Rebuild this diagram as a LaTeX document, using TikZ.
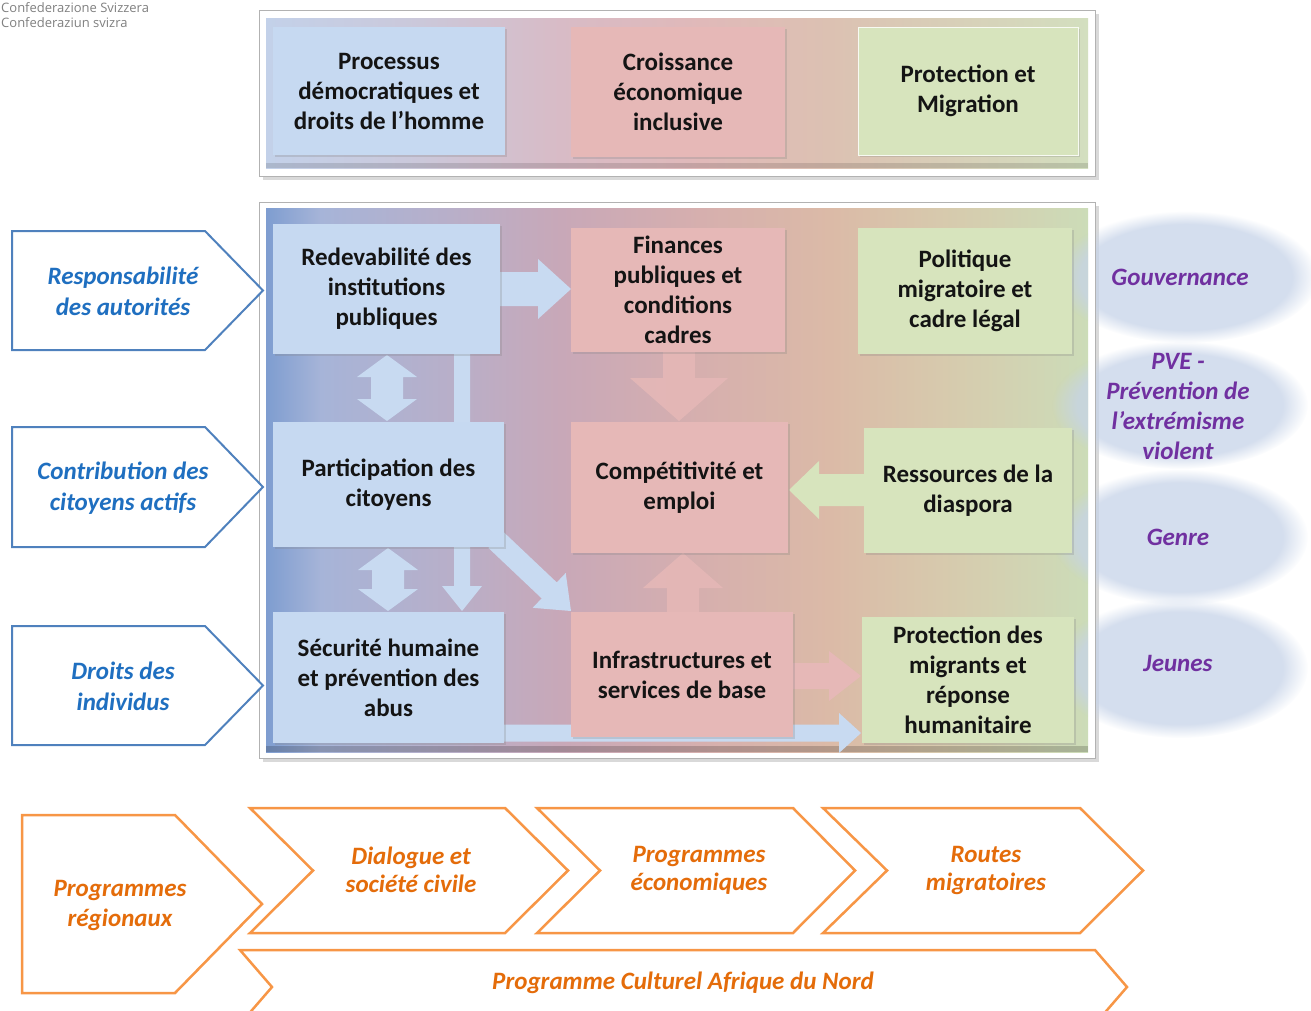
\documentclass[tikz,border=0pt]{standalone}
\usepackage{fontspec}
\setmainfont{Carlito}
\newfontfamily\hdrfont{Open Sans}
\usetikzlibrary{calc,shadows,fadings}
\definecolor{bxblue}{HTML}{C6D9F1}
\definecolor{bxpink}{HTML}{E6B8B7}
\definecolor{bxgreen}{HTML}{D7E4BD}
\definecolor{lblblue}{HTML}{1F6FC0}
\definecolor{pentblue}{HTML}{4F81BD}
\definecolor{purp}{HTML}{7030A0}
\definecolor{orng}{HTML}{E46C0A}
\definecolor{orngline}{HTML}{F79646}
\definecolor{ellc}{HTML}{C6D3E8}
\definecolor{arblue}{HTML}{C8DAF1}
% main frame gradient
\definecolor{ga}{HTML}{7E9DD0}
\definecolor{gb}{HTML}{A6B4D8}
\definecolor{gc}{HTML}{B8AFC9}
\definecolor{gd}{HTML}{C8A8B8}
\definecolor{ge}{HTML}{D6AFAE}
\definecolor{gf}{HTML}{DBBAA7}
\definecolor{gg}{HTML}{D6CCAE}
\definecolor{gh}{HTML}{CCDCB8}
% top frame gradient
\definecolor{ta}{HTML}{C3D1E9}
\definecolor{tb}{HTML}{CBC8DA}
\definecolor{tc}{HTML}{D8BBC6}
\definecolor{td}{HTML}{E0B9B9}
\definecolor{te}{HTML}{DCC1B2}
\definecolor{tf}{HTML}{D3DFBF}

\newcommand{\blockarrow}[6]{% style, start, end, shaft half, head half, head length
  \coordinate (bah) at ($(#3)!#6!(#2)$);
  \fill[#1] ($(#2)!#4!90:(#3)$) -- ($(bah)!#4!90:(#3)$) -- ($(bah)!#5!90:(#3)$) -- (#3)
    -- ($(bah)!#5!-90:(#3)$) -- ($(bah)!#4!-90:(#3)$) -- ($(#2)!#4!-90:(#3)$) -- cycle;
}
\newcommand{\dblarrow}[6]{% style, start, end, shaft half, head half, head length
  \coordinate (bha) at ($(#2)!#6!(#3)$);
  \coordinate (bhb) at ($(#3)!#6!(#2)$);
  \fill[#1] (#2) -- ($(bha)!#5!90:(#3)$) -- ($(bha)!#4!90:(#3)$) -- ($(bhb)!#4!90:(#3)$)
    -- ($(bhb)!#5!90:(#3)$) -- (#3) -- ($(bhb)!#5!-90:(#3)$) -- ($(bhb)!#4!-90:(#3)$)
    -- ($(bha)!#4!-90:(#3)$) -- ($(bha)!#5!-90:(#3)$) -- cycle;
}

\tikzset{
  bx/.style={fill=#1, inner sep=0pt, align=center,
    font=\fontsize{25}{30}\selectfont\bfseries, text=black!92,
    drop shadow={opacity=0.25, shadow xshift=1.5pt, shadow yshift=-1.5pt}},
  lbl/.style={align=center, font=\fontsize{25}{31}\selectfont\bfseries\itshape, text=lblblue},
  pent/.style={draw=pentblue, line width=2pt, fill=white},
  ell/.style={align=center, font=\fontsize{25}{30}\selectfont\bfseries\itshape, text=purp},
  softell/.style={fill=ellc, path fading=circle with fuzzy edge 20 percent, fill opacity=0.75},
  chev/.style={draw=orngline, line width=2.5pt, fill=white},
  otxt/.style={align=center, font=\fontsize{25}{28}\selectfont\bfseries\itshape, text=orng},
  hdr/.style={anchor=west, inner sep=0pt, font=\hdrfont\fontsize{13}{15}\selectfont, text=black!50},
  framebox/.style={draw=black!30, line width=0.8pt, fill=white},
}

\begin{document}
\begin{tikzpicture}[x=1pt, y=-1pt]
\useasboundingbox (0,0) rectangle (1311,1010);

% header
\node[hdr] (h1) at (1,8) {Confederazione Svizzera};
\node[hdr] (h2) at (1,23) {Confederaziun svizra};

% ---------- top frame ----------
\fill[black, opacity=0.15] (263,14) rectangle (1099,180);
\draw[framebox] (259,10) rectangle (1095,176);
\shade[left color=ta, right color=tb] (266,18) rectangle (420.5,168);
\shade[left color=tb, right color=tc] (420,18) rectangle (560.5,168);
\shade[left color=tc, right color=td] (560,18) rectangle (700.5,168);
\shade[left color=td, right color=te] (700,18) rectangle (830.5,168);
\shade[left color=te, right color=tf] (830,18) rectangle (1088,168);
\fill[black, opacity=0.12] (266,163) rectangle (1088,168);

% ---------- main frame ----------
\fill[black, opacity=0.15] (263,206) rectangle (1099,762);
\draw[framebox] (259,202) rectangle (1095,758);
\shade[left color=ga, right color=gb] (266,208) rectangle (320.5,752);
\shade[left color=gb, right color=gc] (320,208) rectangle (450.5,752);
\shade[left color=gc, right color=gd] (450,208) rectangle (560.5,752);
\shade[left color=gd, right color=ge] (560,208) rectangle (700.5,752);
\shade[left color=ge, right color=gf] (700,208) rectangle (830.5,752);
\shade[left color=gf, right color=gg] (830,208) rectangle (960.5,752);
\shade[left color=gg, right color=gh] (960,208) rectangle (1088,752);
\fill[black, opacity=0.18] (266,746) rectangle (1088,752);

% ---------- right ellipses (soft) ----------
\begin{scope}
\clip (1000,190) rectangle (1088,770) (1096,190) rectangle (1311,770);
\foreach \cx/\cy/\rx/\ry in {1186/277/132/66, 1180/405/128/64, 1180/537/128/68, 1180/668/128/70}{
  \fill[softell] (\cx,\cy) ellipse [x radius=\rx, y radius=\ry];
}
\end{scope}

\path (389,91) coordinate (cproc) (678,92) coordinate (ccroi) (968,91) coordinate (cprot);

% arrow end points (on box edges)
\coordinate (redE) at (500,289);
\coordinate (finW) at (571,289);
\coordinate (redS) at (387,355);
\coordinate (partN) at (387,421);
\coordinate (barS) at (462,354);
\coordinate (barE) at (462,611);
\coordinate (partS) at (388,548);
\coordinate (secuN) at (388,611);
\coordinate (diagS) at (496,540);
\coordinate (diagE) at (571,611);
\coordinate (finS) at (679,352);
\coordinate (compN) at (679,421);
\coordinate (ressW) at (864,490);
\coordinate (compE) at (789,490);
\coordinate (infraN) at (683,612);
\coordinate (compS) at (683,553);
\coordinate (infraE) at (793,676);
\coordinate (pmigW) at (861,676);
\coordinate (secuE) at (504,733);
\coordinate (pmigW2) at (861,733);

\blockarrow{arblue}{redE}{finW}{17pt}{30pt}{33pt}
\dblarrow{arblue}{redS}{partN}{16pt}{30pt}{22pt}
\blockarrow{arblue}{barS}{barE}{8pt}{20pt}{25pt}
\dblarrow{arblue}{partS}{secuN}{16pt}{30pt}{22pt}
\blockarrow{arblue}{diagS}{diagE}{11pt}{24pt}{30pt}
\blockarrow{bxpink, opacity=0.85}{finS}{compN}{16pt}{49pt}{43pt}
\blockarrow{bxgreen}{ressW}{compE}{16pt}{29pt}{30pt}
\blockarrow{bxpink, opacity=0.85}{infraN}{compS}{16pt}{40pt}{35pt}
\blockarrow{bxpink}{infraE}{pmigW}{13pt}{25pt}{32pt}
\blockarrow{arblue}{secuE}{pmigW2}{8.5pt}{20pt}{22pt}

% top boxes
\node[bx=bxblue, minimum width=232pt, minimum height=128pt] (proc) at (cproc) {Processus\\démocratiques et\\droits de l’homme};
\node[bx=bxpink, minimum width=214pt, minimum height=130pt] (croi) at (ccroi) {Croissance\\économique\\inclusive};
\node[bx=bxgreen, draw=white!80!bxgreen, line width=1pt, minimum width=220pt, minimum height=128pt] (prot) at (cprot) {Protection et\\Migration};

% main boxes
\node[bx=bxblue, minimum width=227pt, minimum height=130pt] (red) at (386.5,289) {Redevabilité des\\institutions\\publiques};
\node[bx=bxblue, minimum width=231pt, minimum height=125pt] (part) at (388.5,484.5) {Participation des\\citoyens};
\node[bx=bxblue, minimum width=231pt, minimum height=131pt] (secu) at (388.5,677.5) {Sécurité humaine\\et prévention des\\abus};
\node[bx=bxpink, minimum width=214pt, minimum height=124pt] (fin) at (678,290) {Finances\\publiques et\\conditions\\cadres};
\node[bx=bxpink, minimum width=217pt, minimum height=131pt] (comp) at (679.5,487.5) {Compétitivité et\\emploi};
\node[bx=bxpink, minimum width=222pt, minimum height=125pt] (infra) at (682,674.5) {Infrastructures et\\services de base};
\node[bx=bxgreen, minimum width=214pt, minimum height=126pt] (pol) at (965,291) {Politique\\migratoire et\\cadre légal};
\node[bx=bxgreen, minimum width=208pt, minimum height=125pt] (ress) at (968,490.5) {Ressources de la\\diaspora};
\node[bx=bxgreen, minimum width=212pt, minimum height=126pt] (pmig) at (968,680) {Protection des\\migrants et\\réponse\\humanitaire};

% ellipse labels
\node[ell] (gouv) at (1180,277) {Gouvernance};
\node[ell] (pve) at (1178,406) {PVE -\\Prévention de\\l’extrémisme\\violent};
\node[ell] (genre) at (1178,537) {Genre};
\node[ell] (jeunes) at (1178,663) {Jeunes};

% ---------- left pentagons ----------
\draw[pent] (12,231) -- (205,231) -- (263,290.5) -- (205,350) -- (12,350) -- cycle;
\draw[pent] (12,427) -- (205,427) -- (263,487) -- (205,547) -- (12,547) -- cycle;
\draw[pent] (12,626) -- (205,626) -- (263,685.5) -- (205,745) -- (12,745) -- cycle;
\node[lbl] (resp) at (123,291) {Responsabilité\\des autorités};
\node[lbl] (contr) at (123,488) {Contribution des\\citoyens actifs};
\node[lbl] (droits) at (123,686) {Droits des\\individus};

% ---------- bottom chevrons ----------
\draw[chev] (240,950) -- (1095,950) -- (1127,987) -- (1095,1024) -- (240,1024) -- (272,987) -- cycle;
\draw[chev] (250,808) -- (505,808) -- (568,870.5) -- (505,933) -- (250,933) -- (313,870.5) -- cycle;
\draw[chev] (537,808) -- (793,808) -- (855,870.5) -- (793,933) -- (537,933) -- (600,870.5) -- cycle;
\draw[chev] (823,808) -- (1080,808) -- (1143,870.5) -- (1080,933) -- (823,933) -- (887,870.5) -- cycle;
\draw[chev] (22,815) -- (175,815) -- (262,904) -- (175,993) -- (22,993) -- cycle;

\node[otxt, font=\fontsize{25}{30}\selectfont\bfseries\itshape] (preg) at (120,905) {Programmes\\régionaux};
\node[otxt] (dial) at (411,870) {Dialogue et\\société civile};
\node[otxt] (peco) at (699,870) {Programmes\\économiques};
\node[otxt] (rout) at (986,870) {Routes\\migratoires};
\node[otxt] (pcult) at (683,983) {Programme Culturel Afrique du Nord};
\end{tikzpicture}
\end{document}
